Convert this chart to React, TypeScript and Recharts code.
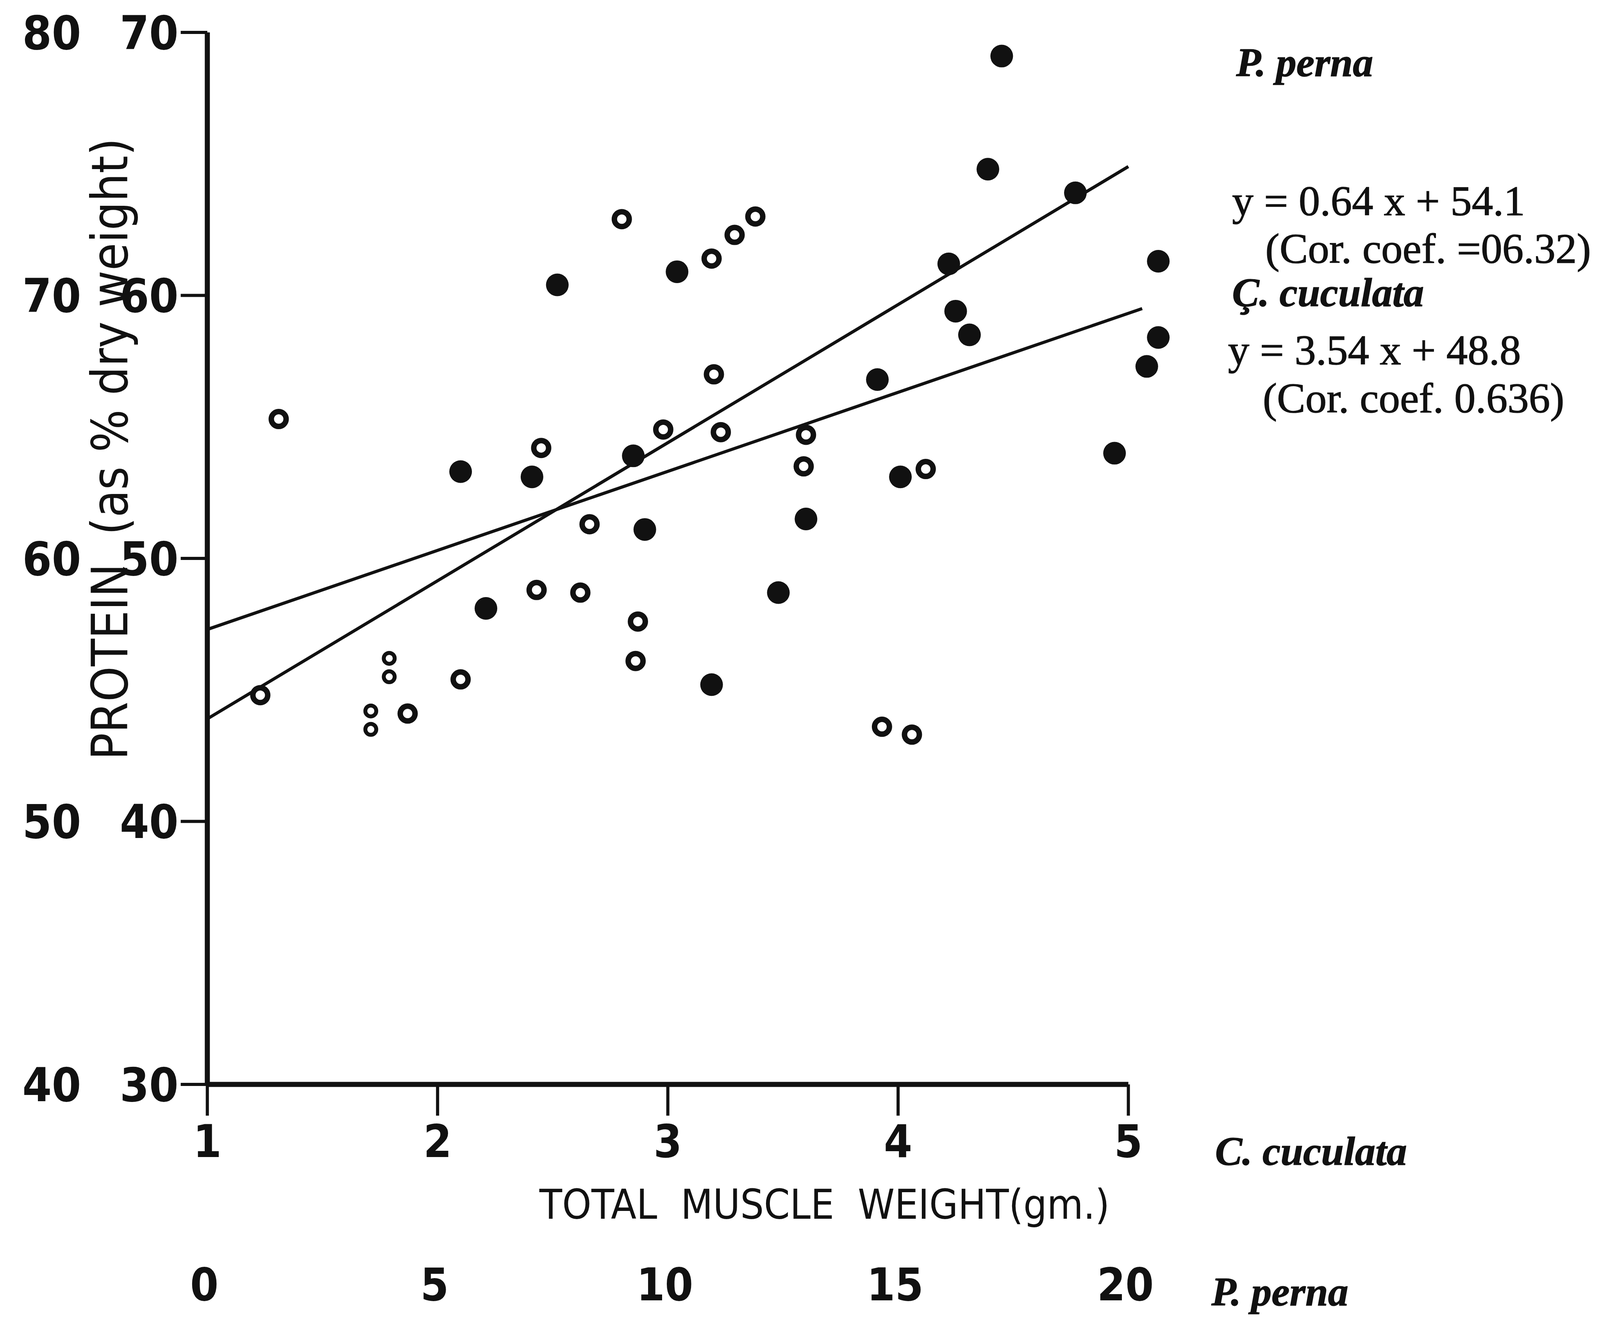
import { ReferenceLine, Scatter, ScatterChart, XAxis, YAxis } from "recharts";

// x: total muscle weight on the C. cuculata scale (gm), y: protein on the inner axis (% dry weight)
const pernaPoints = [
  { x: 4.45, y: 69.1 },
  { x: 4.39, y: 64.8 },
  { x: 4.77, y: 63.9 },
  { x: 4.22, y: 61.2 },
  { x: 5.13, y: 61.3 },
  { x: 4.25, y: 59.4 },
  { x: 4.31, y: 58.5 },
  { x: 5.13, y: 58.4 },
  { x: 5.08, y: 57.3 },
  { x: 3.91, y: 56.8 },
  { x: 4.94, y: 54.0 },
  { x: 4.01, y: 53.1 },
  { x: 3.6, y: 51.5 },
  { x: 2.52, y: 60.4 },
  { x: 3.04, y: 60.9 },
  { x: 2.1, y: 53.3 },
  { x: 2.41, y: 53.1 },
  { x: 2.85, y: 53.9 },
  { x: 2.9, y: 51.1 },
  { x: 2.21, y: 48.1 },
  { x: 3.48, y: 48.7 },
  { x: 3.19, y: 45.2 },
];

const cuculataPoints = [
  { x: 2.8, y: 62.9 },
  { x: 3.19, y: 61.4 },
  { x: 3.29, y: 62.3 },
  { x: 3.38, y: 63.0 },
  { x: 3.2, y: 57.0 },
  { x: 2.98, y: 54.9 },
  { x: 3.23, y: 54.8 },
  { x: 2.45, y: 54.2 },
  { x: 3.6, y: 54.7 },
  { x: 3.59, y: 53.5 },
  { x: 4.12, y: 53.4 },
  { x: 2.66, y: 51.3 },
  { x: 2.43, y: 48.8 },
  { x: 2.62, y: 48.7 },
  { x: 2.87, y: 47.6 },
  { x: 2.86, y: 46.1 },
  { x: 2.1, y: 45.4 },
  { x: 1.87, y: 44.1 },
  { x: 1.23, y: 44.8 },
  { x: 1.31, y: 55.3 },
  { x: 3.93, y: 43.6 },
  { x: 4.06, y: 43.3 },
];

// the two "8" marks: pairs of small stacked circles
const stackedPoints = [
  { x: 1.79, y: 46.2 },
  { x: 1.79, y: 45.5 },
  { x: 1.71, y: 44.2 },
  { x: 1.71, y: 43.5 },
];

const pernaLine = [
  { x: 1, y: 43.9 },
  { x: 5, y: 64.9 },
];
const cuculataLine = [
  { x: 1, y: 47.3 },
  { x: 5.06, y: 59.5 },
];

const cuculataTicks = [1, 2, 3, 4, 5];
const pernaTicks = [0, 5, 10, 15, 20];
const innerTicks = [30, 40, 50, 60, 70];
const outerTicks = [40, 50, 60, 70, 80];

// the page comes out ~4100 css px wide but 3388 tall, so horizontal layout is scaled
const KX = 1 / 1.057;
const KY = 1;
const lx = (v: number) => v * KX; // horizontal lengths
const ly = (v: number) => v * KY; // vertical lengths
const ax = (v: number) => v * KX - 8; // reference px -> svg x
const ay = (v: number) => v * KY - 8; // reference px -> svg y

const W = Math.floor(4333 * KX) - 16;
const H = 3370;
const PLOT_LEFT = ax(561);
const PLOT_RIGHT = ax(3209); // x = 5.25
const PLOT_TOP = ay(83);
const PLOT_BOTTOM = ay(2777);
const X_AXIS_H = ly(150);

const INK = "#111";
const SANS =
  "'Liberation Sans Narrow', 'DejaVu Sans Condensed', 'Liberation Sans', Arial, sans-serif";
const SERIF = "'Liberation Serif', 'Times New Roman', serif";

function XTick(props: any) {
  const { x, y, payload } = props;
  const i = cuculataTicks.indexOf(payload.value);
  const style = { fontFamily: SANS, fontSize: 116, fontWeight: 700, fill: INK };
  return (
    <g>
      <text x={x} y={y} dy="0.71em" textAnchor="middle" style={style}>
        {payload.value}
      </text>
      <text x={x - lx(8)} y={y + ly(367)} dy="0.71em" textAnchor="middle" style={style}>
        {pernaTicks[i]}
      </text>
    </g>
  );
}

function YTick(props: any) {
  const { x, y, payload } = props;
  const i = innerTicks.indexOf(payload.value);
  const style = { fontFamily: SANS, fontSize: 120, fontWeight: 700, fill: INK };
  return (
    <g>
      <text x={x} y={y} dy="0.355em" textAnchor="end" style={style}>
        {payload.value}
      </text>
      <text x={ax(140)} y={y} dy="0.355em" textAnchor="middle" style={style}>
        {outerTicks[i]}
      </text>
    </g>
  );
}

const filledDot = (p: any) => <circle cx={p.cx} cy={p.cy} r={29} fill={INK} />;
const openDot = (p: any) => (
  <circle cx={p.cx} cy={p.cy} r={19} fill="#fff" stroke={INK} strokeWidth={14} />
);
const smallDot = (p: any) => (
  <circle cx={p.cx} cy={p.cy} r={14} fill="#fff" stroke={INK} strokeWidth={10} />
);

export default function App() {
  const serif = {
    fontFamily: SERIF,
    fontSize: 109,
    fill: INK,
    stroke: INK,
    strokeWidth: 1.5,
  };
  const italic = { ...serif, fontSize: 104, fontStyle: "italic" as const, fontWeight: 700 };
  return (
    <div style={{ position: "relative", width: W, height: H, background: "#fff" }}>
      <ScatterChart
        width={W}
        height={H}
        margin={{
          top: PLOT_TOP,
          right: W - PLOT_RIGHT,
          bottom: H - PLOT_BOTTOM - X_AXIS_H,
          left: 0,
        }}
      >
        <XAxis
          type="number"
          dataKey="x"
          domain={[1, 5.25]}
          ticks={cuculataTicks}
          interval={0}
          allowDataOverflow
          axisLine={false}
          tickLine={{ stroke: INK, strokeWidth: 8 }}
          tickSize={ly(80)}
          tickMargin={ly(24)}
          height={X_AXIS_H}
          tick={<XTick />}
        />
        <YAxis
          type="number"
          dataKey="y"
          domain={[30, 70]}
          ticks={innerTicks}
          interval={0}
          allowDataOverflow
          width={PLOT_LEFT}
          axisLine={{ stroke: INK, strokeWidth: 13 }}
          tickLine={{ stroke: INK, strokeWidth: 8 }}
          tickSize={lx(72)}
          tickMargin={lx(6)}
          tick={<YTick />}
        />
        <ReferenceLine
          segment={[
            { x: cuculataTicks[0], y: innerTicks[0] },
            { x: cuculataTicks[4], y: innerTicks[0] },
          ]}
          stroke={INK}
          strokeWidth={13}
          ifOverflow="visible"
        />
        <ReferenceLine segment={pernaLine} stroke={INK} strokeWidth={8} ifOverflow="visible" />
        <ReferenceLine segment={cuculataLine} stroke={INK} strokeWidth={8} ifOverflow="visible" />
        <Scatter data={cuculataPoints} shape={openDot} isAnimationActive={false} />
        <Scatter data={stackedPoints} shape={smallDot} isAnimationActive={false} />
        <Scatter data={pernaPoints} shape={filledDot} isAnimationActive={false} />
      </ScatterChart>
      <svg
        width={W}
        height={H}
        style={{ position: "absolute", left: 0, top: 0, pointerEvents: "none" }}
      >
        <text
          x={ax(345)}
          y={ay(1150)}
          textAnchor="middle"
          transform={`rotate(-90 ${ax(345)} ${ay(1150)})`}
          style={{ fontFamily: SANS, fontSize: 128, fill: INK, whiteSpace: "pre" }}
        >
          PROTEIN  (as % dry weight)
        </text>
        <text
          x={ax(2231)}
          y={ay(3121)}
          textAnchor="middle"
          style={{ fontFamily: SANS, fontSize: 106, fill: INK, whiteSpace: "pre" }}
        >
          TOTAL  MUSCLE  WEIGHT(gm.)
        </text>
        <text x={ax(3288)} y={ay(2983)} style={italic}>C. cuculata</text>
        <text x={ax(3278)} y={ay(3343)} style={italic}>P. perna</text>

        <text x={ax(3345)} y={ay(195)} style={italic}>P. perna</text>
        <text x={ax(3334)} y={ay(551)} style={serif}>y = 0.64 x + 54.1</text>
        <text x={ax(3424)} y={ay(673)} style={serif}>(Cor. coef. =06.32)</text>
        <text x={ax(3334)} y={ay(784)} style={italic}>Ç. cuculata</text>
        <text x={ax(3323)} y={ay(933)} style={serif}>y = 3.54 x + 48.8</text>
        <text x={ax(3417)} y={ay(1056)} style={serif}>(Cor. coef. 0.636)</text>
      </svg>
    </div>
  );
}
